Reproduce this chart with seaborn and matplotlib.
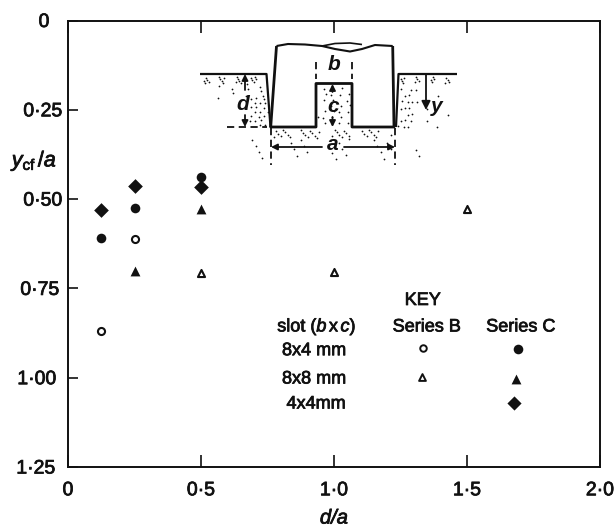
import numpy as np
import pandas as pd
import matplotlib
matplotlib.use("Agg")
import matplotlib.pyplot as plt
import matplotlib.patheffects as pe
from matplotlib.transforms import ScaledTranslation
import seaborn as sns

# ---- data ----
c_circle_x = [0.125, 0.25, 0.5]
c_circle_y = [0.609, 0.524, 0.439]
c_tri_x = [0.25, 0.5]
c_tri_y = [0.70, 0.527]
c_dia_x = [0.125, 0.25, 0.5]
c_dia_y = [0.531, 0.462, 0.467]
b_circle_x = [0.125, 0.25]
b_circle_y = [0.87, 0.611]
b_tri_x = [0.5, 1.0, 1.5]
b_tri_y = [0.706, 0.705, 0.527]

x_ticks = [0, 0.5, 1.0, 1.5, 2.0]
x_labels = ["0", "0·5", "1·0", "1·5", "2·0"]
y_ticks = [0, 0.25, 0.5, 0.75, 1.0, 1.25]
y_labels = ["0", "0·25", "0·50", "0·75", "1·00", "1·25"]

W, H = 616, 529
sns.set_style("ticks")
plt.rcParams["font.family"] = ["Liberation Sans", "DejaVu Sans"]
plt.rcParams["mathtext.fontset"] = "custom"
plt.rcParams["mathtext.rm"] = "Liberation Sans"
plt.rcParams["mathtext.it"] = "Liberation Sans:italic"
plt.rcParams["mathtext.bf"] = "Liberation Sans:bold"
plt.rcParams["mathtext.bfit"] = "Liberation Sans:italic:bold"
INK = "#111111"
HEAVY = [pe.withStroke(linewidth=0.55, foreground=INK)]

fig = plt.figure(figsize=(W / 100, H / 100), dpi=100, facecolor="white")
L, R, T, B = 68, 600, 20.5, 467
ax = fig.add_axes([L / W, 1 - B / H, (R - L) / W, (B - T) / H])

def pts(x, y, marker, filled, size):
    df = pd.DataFrame({"x": x, "y": y})
    sns.scatterplot(data=df, x="x", y="y", ax=ax, marker=marker, s=size,
                    facecolor=INK if filled else "white", edgecolor=INK,
                    linewidth=0 if filled else 1.5, zorder=3, clip_on=False)

pts(c_circle_x, c_circle_y, "o", True, 48)
pts(c_tri_x, c_tri_y, "^", True, 50)
pts(c_dia_x, c_dia_y, "D", True, 56)
pts(b_circle_x, b_circle_y, "o", False, 26)
pts(b_tri_x, b_tri_y, "^", False, 26)

ax.set_xlim(0, 2)
ax.set_ylim(1.25, 0)
ax.set_xlabel("")
ax.set_ylabel("")
ax.set_xticks(x_ticks)
ax.set_xticklabels(x_labels, fontsize=14, color=INK)
ax.set_yticks(y_ticks)
ax.set_yticklabels(y_labels, fontsize=14, color=INK)
ax.tick_params(axis="x", direction="in", length=8.5, width=1.2, pad=11,
               top=True, bottom=True, color=INK)
ax.tick_params(axis="y", direction="in", length=7.5, width=1.2, pad=4,
               left=True, right=False, color=INK)
for s in ax.spines.values():
    s.set_visible(True)
    s.set_linewidth(1.4)
    s.set_color(INK)

# small per-label offsets (pixels) as in the hand-lettered original
y_shift = [-13, 0, 0, -3, -6, -7]
for t, dx in zip(ax.get_yticklabels(), y_shift):
    t.set_transform(t.get_transform() + ScaledTranslation(dx / 100, 0, fig.dpi_scale_trans))
    t.set_path_effects(HEAVY)
for t in ax.get_xticklabels():
    t.set_path_effects(HEAVY)

# overlay in pixel coordinates for the inset sketch and the key
ov = fig.add_axes([0, 0, 1, 1], facecolor="none")
ov.set_xlim(0, W)
ov.set_ylim(H, 0)
ov.axis("off")

def line(xs, ys, lw=1.5, **kw):
    ov.plot(xs, ys, color=INK, lw=lw, solid_capstyle="butt", **kw)

def stipple(x0, x1, y0, y1, n, seed, size=1.6):
    a1, a2 = 0.7548776662, 0.5698402910
    i = np.arange(seed, seed + n)
    ov.scatter(x0 + (x1 - x0) * ((0.5 + a1 * i) % 1),
               y0 + (y1 - y0) * ((0.5 + a2 * i) % 1),
               s=size, color=INK, linewidths=0)

# stippled ground
stipple(203, 266, 77, 84, 20, 1)
stipple(208, 266, 84, 100, 10, 31)
stipple(250, 268, 95, 126, 20, 51)
stipple(318, 350, 86, 126, 24, 81)
stipple(398, 457, 77, 84, 16, 111)
stipple(398, 412, 84, 128, 18, 141)
stipple(412, 455, 86, 130, 7, 171)
stipple(273, 393, 130, 138, 34, 201)
stipple(250, 420, 138, 160, 24, 251)

# block outline
line([276.5, 270.7, 316, 316, 352, 352, 394, 392.7],
     [46, 127, 127, 83.5, 83.5, 127, 127, 46], lw=2.0)
# wavy top
wx = [276.5, 288, 305, 322, 335, 350, 362, 375, 392.7]
wy1 = [46, 44, 44.5, 46, 49, 51.5, 49, 45, 46]
wy2 = [46, 44, 44.5, 46, 43.5, 43, 44.5, 45, 46]
line(wx, wy1, lw=1.5)
line(wx[3:7], wy2[3:7], lw=1.2)
# ground surface
line([200, 266.5, 270.5], [74, 74, 127], lw=1.6)
line([396, 398.5, 457], [127, 74, 74], lw=1.6)

dash = dict(lw=1.3, ls=(0, (4, 2.5)))
line([316, 316], [62, 79], **dash)
line([352, 352], [62, 79], **dash)
line([271, 271], [128, 165], **dash)
line([395, 395], [128, 165], **dash)
line([227, 267], [127, 127], **dash)

def arrow(x0, y0, x1, y1, ms=9):
    ov.annotate("", xy=(x1, y1), xytext=(x0, y0),
                arrowprops=dict(arrowstyle="-|>", color=INK, lw=1.3,
                                mutation_scale=ms, shrinkA=0, shrinkB=0))

arrow(245, 90, 245, 74)
arrow(245, 115, 245, 127)
arrow(332.5, 92, 332.5, 84)
arrow(332.5, 117, 332.5, 127)
arrow(426, 74, 426, 110, ms=13)
arrow(322, 147, 271, 147)
arrow(344, 147, 395, 147)

def sketch(x, y, s, size=15):
    ov.text(x, y, s, ha="center", va="center", fontsize=size, style="italic",
            weight="bold", color=INK)

sketch(334.5, 65, "b")
sketch(333, 107, "c")
sketch(243, 104, "d")
sketch(437, 106, "y")
sketch(333, 145, "a")

def label(x, y, s, size=13):
    ov.text(x, y, s, ha="center", va="center", fontsize=size, color=INK,
            path_effects=HEAVY)

label(422.7, 300.5, "KEY")
label(426.7, 327, "Series B")
label(520.7, 327, "Series C")
label(316.7, 327, r"slot ($\mathit{b}\,$x$\,\mathit{c}$)")
label(314, 350.7, "8x4 mm")
label(314, 379, "8x8 mm")
label(316, 404, "4x4mm")

ov.scatter([423.3], [348], marker="o", s=22, facecolor="white", edgecolor=INK, linewidth=1.4)
ov.scatter([422.3], [377.3], marker="^", s=24, facecolor="white", edgecolor=INK, linewidth=1.4)
ov.scatter([518.3], [349], marker="o", s=48, color=INK, linewidths=0)
ov.scatter([516], [379], marker="^", s=50, color=INK, linewidths=0)
ov.scatter([514], [403], marker="D", s=52, color=INK, linewidths=0)

ov.text(334, 518, "d/a", ha="center", va="center", fontsize=14.5, style="italic",
        color=INK, path_effects=HEAVY)
ov.text(35, 161, r"$\mathit{y}_{\mathrm{cf}}\,/\mathit{a}$", ha="center", va="center",
        fontsize=15.5, color=INK, path_effects=HEAVY)

fig.savefig("out.png", dpi=100, facecolor="white")
